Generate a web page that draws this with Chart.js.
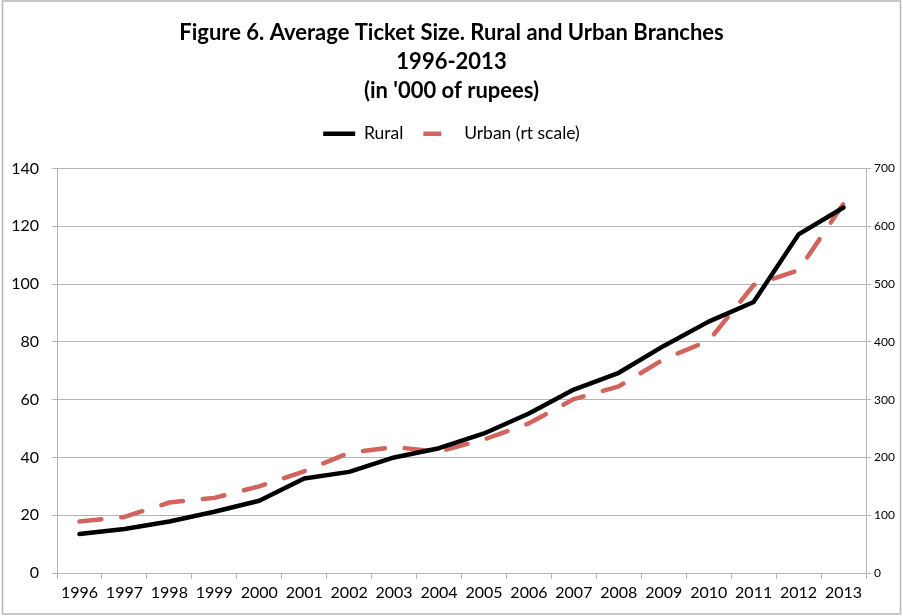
<!DOCTYPE html>
<html>
<head>
<meta charset="utf-8">
<script src="https://cdn.jsdelivr.net/npm/chart.js@4"></script>
<style>
  html, body { margin: 0; padding: 0; background: #fff; }
  #wrap { width: 903px; height: 616px; }
</style>
</head>
<body>
<div id="wrap"><canvas id="chart" width="903" height="616"></canvas></div>
<script>
const years = ['1996', '1997', '1998', '1999', '2000', '2001', '2002', '2003', '2004',
               '2005', '2006', '2007', '2008', '2009', '2010', '2011', '2012', '2013'];
// rural, left scale
const rural = [13.5, 15.2, 17.8, 21.2, 25, 32.7, 35, 40, 43.2, 48.3, 55.2, 63.5, 69.3, 78.6, 87, 93.8, 117.2, 126.5];
// urban, right scale
const urban = [89, 97, 122, 130, 150, 176, 208, 218, 210, 231, 259, 301, 323, 370, 402, 498, 524, 639];
const leftTicks = [0, 20, 40, 60, 80, 100, 120, 140];
const rightTicks = [0, 100, 200, 300, 400, 500, 600, 700];

const titleLines = ['Figure 6. Average Ticket Size. Rural and Urban Branches', '1996-2013', "(in '000 of rupees)"];
const gridGray = '#b4b4b4';
const font = 'Lato';

// outer frame like the spreadsheet chart border
const framePlugin = {
    id: 'frame',
    afterDraw(chart) {
        const ctx = chart.ctx;
        ctx.save();
        ctx.strokeStyle = '#b8b8b8';
        ctx.lineWidth = 1.5;
        ctx.strokeRect(2.5, 1, 898, 613);
        ctx.restore();
    }
};

// extra room between legend and plot area
const legendSpacer = {
    id: 'legendSpacer',
    beforeInit(chart) {
        const origFit = chart.legend.fit;
        chart.legend.fit = function () {
            origFit.bind(chart.legend)();
            this.height += 16;
        };
    }
};

const ctx = document.getElementById('chart').getContext('2d');
new Chart(ctx, {
    type: 'line',
    data: {
        labels: years,
        datasets: [
            {
                label: 'Rural', data: rural, yAxisID: 'y',
                borderColor: '#000', backgroundColor: '#000',
                borderWidth: 4.5, pointRadius: 0, tension: 0,
                borderCapStyle: 'round', borderJoinStyle: 'round'
            },
            {
                label: 'Urban (rt scale)', data: urban, yAxisID: 'y1',
                borderColor: '#d2645e', backgroundColor: '#d2645e',
                borderWidth: 4.5, pointRadius: 0, tension: 0,
                borderDash: [22, 20], borderCapStyle: 'round', borderJoinStyle: 'round'
            }
        ]
    },
    options: {
        responsive: false,
        animation: false,
        layout: { padding: { left: 0, right: 0, top: 0, bottom: 0 } },
        plugins: {
            title: {
                display: true,
                text: titleLines,
                color: '#000',
                font: { family: font, size: 22, weight: 'bold', lineHeight: 29 / 22 },
                padding: { top: 18, bottom: 0 }
            },
            legend: {
                display: true,
                labels: {
                    color: '#000',
                    font: { family: font, size: 17.5 },
                    usePointStyle: true,
                    pointStyle: 'line',
                    pointStyleWidth: 32,
                    boxWidth: 32,
                    padding: 20,
                    generateLabels(chart) {
                        return chart.data.datasets.map((ds, i) => ({
                            text: ds.label,
                            strokeStyle: ds.borderColor,
                            fillStyle: ds.borderColor,
                            lineWidth: 4.5,
                            lineDash: i === 1 ? [18, 40] : [],
                            lineCap: 'butt',
                            pointStyle: 'line',
                            datasetIndex: i,
                            fontColor: '#000'
                        }));
                    }
                }
            },
            tooltip: { enabled: false }
        },
        scales: {
            x: {
                offset: true,
                afterFit(s) { s.height = 43; },
                grid: { offset: true, drawOnChartArea: false, color: gridGray, tickLength: 6, tickColor: gridGray },
                border: { color: gridGray, width: 1 },
                ticks: { color: '#000', font: { family: font, size: 16 }, maxRotation: 0, autoSkip: false, padding: 4 }
            },
            y: {
                position: 'left',
                min: 0, max: 140,
                afterFit(s) { s.width = 57; },
                afterBuildTicks(s) { s.ticks = leftTicks.map(v => ({ value: v })); },
                grid: { color: gridGray, tickLength: 5, tickColor: gridGray },
                border: { color: gridGray, width: 1 },
                ticks: { color: '#000', font: { family: font, size: 16 }, padding: 13 }
            },
            y1: {
                position: 'right',
                min: 0, max: 700,
                afterFit(s) { s.width = 37; },
                afterBuildTicks(s) { s.ticks = rightTicks.map(v => ({ value: v })); },
                grid: { drawOnChartArea: false, color: gridGray, tickLength: 5, tickColor: gridGray },
                border: { color: gridGray, width: 1 },
                ticks: { color: '#000', font: { family: font, size: 12 }, padding: 3 }
            }
        }
    },
    plugins: [framePlugin, legendSpacer]
});
</script>
</body>
</html>
